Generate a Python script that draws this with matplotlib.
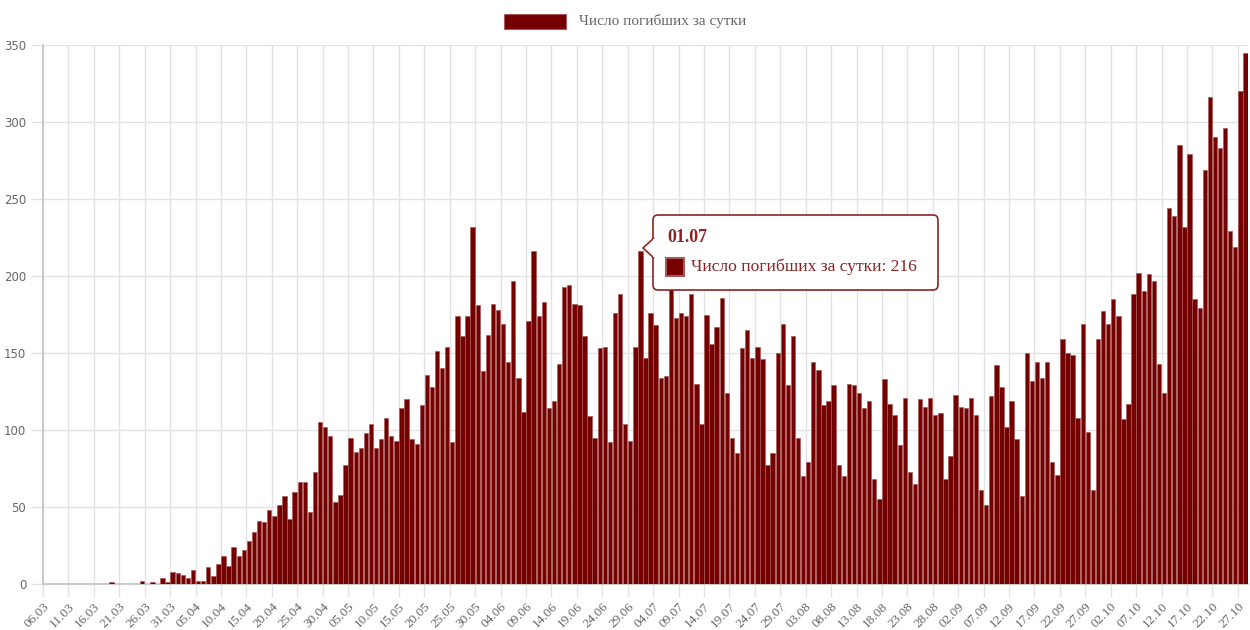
import numpy as np
import pandas as pd
import matplotlib
matplotlib.use("Agg")
import matplotlib.pyplot as plt
from matplotlib.patches import FancyBboxPatch, Rectangle, Polygon

# daily deaths, 06.03 .. 28.10
deaths = [
    0, 0, 0, 0, 0, 0, 0, 0, 0, 0,
    0, 0, 0, 1, 0, 0, 0, 0, 0, 2,
    0, 1, 0, 4, 1, 8, 7, 6, 4, 9,
    2, 2, 11, 5, 13, 18, 12, 24, 18, 22,
    28, 34, 41, 40, 48, 44, 51, 57, 42, 60,
    66, 66, 47, 73, 105, 102, 96, 53, 58, 77,
    95, 86, 88, 98, 104, 88, 94, 108, 96, 93,
    114, 120, 94, 91, 116, 136, 128, 151, 140, 154,
    92, 174, 161, 174, 232, 181, 138, 162, 182, 178,
    169, 144, 197, 134, 112, 171, 216, 174, 183, 114,
    119, 143, 193, 194, 182, 181, 161, 109, 95, 153,
    154, 92, 176, 188, 104, 93, 154, 216, 147, 176,
    168, 134, 135, 195, 173, 176, 174, 188, 130, 104,
    175, 156, 167, 186, 124, 95, 85, 153, 165, 147,
    154, 146, 77, 85, 150, 169, 129, 161, 95, 70,
    79, 144, 139, 116, 119, 129, 77, 70, 130, 129,
    124, 114, 119, 68, 55, 133, 117, 110, 90, 121,
    73, 65, 120, 115, 121, 110, 111, 68, 83, 123,
    115, 114, 121, 110, 61, 51, 122, 142, 128, 102,
    119, 94, 57, 150, 132, 144, 134, 144, 79, 71,
    159, 150, 149, 108, 169, 99, 61, 159, 177, 169,
    185, 174, 107, 117, 188, 202, 190, 201, 197, 143,
    124, 244, 239, 285, 232, 279, 185, 179, 269, 316,
    290, 283, 296, 229, 219, 320, 345,
]
dates = pd.date_range("2020-03-06", periods=len(deaths), freq="D")
day_labels = [d.strftime("%d.%m") for d in dates]

series_name = "Число погибших за сутки"
tip_index = 117  # 01.07

bar_color = "#740000"
tip_color = "#8b2525"
grid_color = "#e3e3e3"
text_color = "#666666"

W, H = 1250, 630
fig = plt.figure(figsize=(W / 100, H / 100), dpi=100)
ax = fig.add_axes([43 / W, 1 - 584 / H, (1248 - 43) / W, (584 - 45) / H])

x = np.arange(len(deaths))
ax.bar(x, deaths, width=0.86, color=bar_color, edgecolor="#a85a5a",
       linewidth=0.5, zorder=3)

ax.set_xlim(-0.5, len(deaths) - 0.5)
ax.set_ylim(0, 350)

xt = np.arange(0, len(deaths), 5)
ax.set_xticks(xt - 0.5)
ax.set_xticklabels([day_labels[i] for i in xt], rotation=45, ha="right",
                   rotation_mode="anchor", family="Liberation Serif",
                   fontsize=9.5, color=text_color)
ax.set_yticks(np.arange(0, 351, 50))
ax.set_yticklabels([str(v) for v in range(0, 351, 50)],
                   family="DejaVu Sans", fontsize=8.5, color=text_color)
ax.tick_params(axis="both", length=9, width=1, color=grid_color, pad=3)
ax.grid(True, color=grid_color, linewidth=1, zorder=0)

for s in ["top", "right"]:
    ax.spines[s].set_visible(False)
for s in ["left", "bottom"]:
    ax.spines[s].set_color("#c4c4c4")
    ax.spines[s].set_linewidth(1.2)


def px(xp, yp):
    return xp / W, 1 - yp / H


# legend
fig.patches.append(Rectangle(px(504, 29), 62 / W, 15 / H, transform=fig.transFigure,
                             facecolor=bar_color, edgecolor="#a85a5a", lw=0.8))
fig.text(*px(579, 21), series_name, family="Liberation Serif", fontsize=11,
         color=text_color, va="center", ha="left")

# tooltip
box = FancyBboxPatch(px(653, 290), (938 - 653) / W, (290 - 215) / H,
                     boxstyle="round,pad=0,rounding_size=0.004",
                     mutation_aspect=W / H, transform=fig.transFigure,
                     facecolor="white", edgecolor=tip_color, lw=1.2, zorder=10)
fig.patches.append(box)
caret = [px(654, 238), px(643, 248), px(654, 258)]
fig.patches.append(Polygon(caret, closed=False, transform=fig.transFigure,
                           facecolor="white", edgecolor=tip_color, lw=1.2, zorder=11))
fig.patches.append(Rectangle(px(653, 257), 2.5 / W, 18 / H, transform=fig.transFigure,
                             facecolor="white", edgecolor="none", zorder=12))
fig.text(*px(667, 238), day_labels[tip_index], family="Liberation Serif",
         fontsize=13, fontweight="bold", color=tip_color, va="center", zorder=13)
fig.patches.append(Rectangle(px(666, 276), 18 / W, 18 / H, transform=fig.transFigure,
                             facecolor=bar_color, edgecolor="#a85a5a", lw=1.5, zorder=13))
fig.text(*px(691, 267), f"{series_name}: {deaths[tip_index]}",
         family="Liberation Serif", fontsize=12.6, color=tip_color,
         va="center", zorder=13)

fig.savefig("out.png", dpi=100)
